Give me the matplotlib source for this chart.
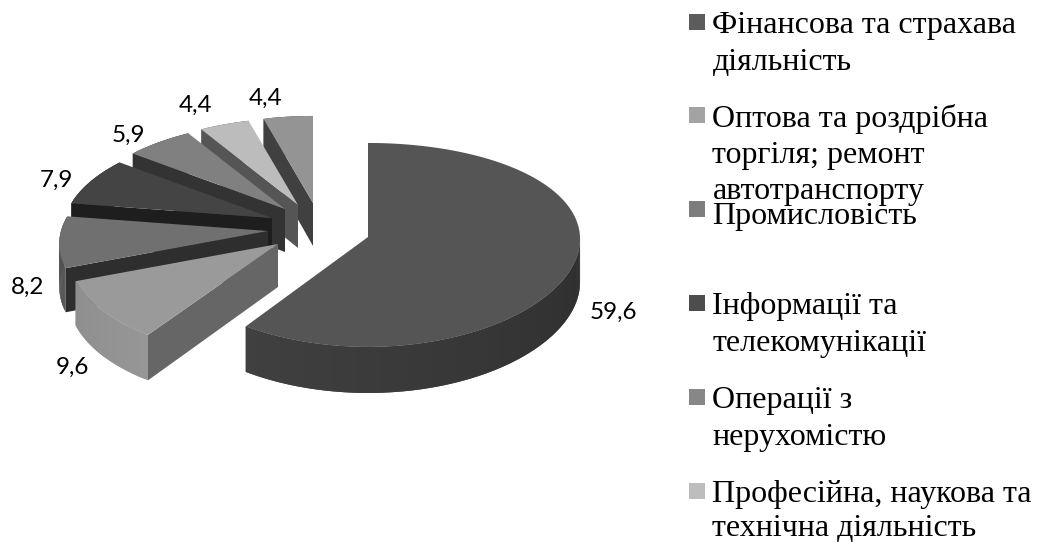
import numpy as np
import matplotlib
matplotlib.use("Agg")
import matplotlib.pyplot as plt
from matplotlib.colors import to_rgb

# Data
values = [59.6, 9.6, 8.2, 7.9, 5.9, 4.4, 4.4]
value_labels = ["59,6", "9,6", "8,2", "7,9", "5,9", "4,4", "4,4"]
legend_lines = [
    ["Фінансова та страхава", "діяльність"],
    ["Оптова та роздрібна", "торгіля; ремонт", "автотранспорту"],
    ["Промисловість"],
    ["Інформації та", "телекомунікації"],
    ["Операції з", "нерухомістю"],
    ["Професійна, наукова та", "технічна діяльність"],
]

# Styles and layout (pixels of the 1037x542 canvas)
apex = [(368, 237), (278, 244), (268, 231), (272, 218), (285, 209), (298, 205), (313, 203)]
top_col = ["#555555", "#9a9a9a", "#707070", "#444444", "#808080", "#bcbcbc", "#949494"]
cut_col = ["#222222", "#666666", "#2e2e2e", "#1e1e1e", "#333333", "#555555", "#404040"]
wall_l = ["#404040", "#8e8e8e", "#505050", "#303030", "#5a5a5a", "#808080", "#686868"]
wall_r = ["#212121", "#969696", "#585858", "#303030", "#5a5a5a", "#808080", "#686868"]
radii = [(212, 0.02, 102, 0.078)] + [(207, 0.13, 99.8, 0.128)] * 6
legend_col = ["#5c5c5c", "#a3a3a3", "#7d7d7d", "#4d4d4d", "#878787", "#bdbdbd"]
legend_y = [14, 107, 201, 295, 389, 483]
legend_base = [[33, 70], [127, 163, 199], [224], [314, 351], [408, 445], [502, 536]]
label_pos = [(613, 312), (72, 367), (28, 287), (56, 180), (128, 135), (196, 105), (266, 98)]

fig = plt.figure(figsize=(10.37, 5.42), dpi=100, facecolor="white")
ax = fig.add_axes([0, 0, 1, 1])
ax.set_xlim(0, 1037)
ax.set_ylim(542, 0)
ax.axis("off")


def project(i, theta):
    rx, kx, ry, ky = radii[i]
    c, s = np.cos(theta), np.sin(theta)
    x = apex[i][0] + rx * c * (1 - kx * s)
    y = apex[i][1] - ry * s * (1 - ky * s)
    return x, y, 43 - 3 * s


total = sum(values)
ends = np.cumsum(values) / total * 2 * np.pi
starts = np.concatenate([[0], ends[:-1]])

for i in range(len(values) - 1, -1, -1):
    t0 = np.pi / 2 - starts[i]
    t1 = np.pi / 2 - ends[i]
    th = np.linspace(t0, t1, max(int(abs(t1 - t0) * 60), 12))
    x, y, d = project(i, th)
    # outer rim as shaded overlapping strips, painted so seams stay hidden
    a, b = to_rgb(wall_r[i]), to_rgb(wall_l[i])
    for j in range(len(th) - 1):
        if i == 0 and np.sin(th[j]) > 0.0:
            continue
        f = j / (len(th) - 2)
        col = tuple(a[k] + (b[k] - a[k]) * f for k in range(3))
        e = min(j + 2, len(th) - 1)
        xs = np.r_[x[j:e + 1], x[j:e + 1][::-1]]
        ys = np.r_[y[j:e + 1], (y + d)[j:e + 1][::-1]]
        ax.fill(xs, ys, color=col, lw=0, zorder=i * -10 + 1 + j * 1e-4)
    # cut face along the lower edge
    if i > 0:
        ax.fill([apex[i][0], x[0], x[0], apex[i][0]],
                [apex[i][1], y[0], y[0] + d[0], apex[i][1] + 43],
                color=cut_col[i], lw=0, zorder=i * -10 + 2)
    # top surface
    ax.fill(np.r_[apex[i][0], x], np.r_[apex[i][1], y],
            color=top_col[i], lw=0, zorder=i * -10 + 3)

for txt, (px, py) in zip(value_labels, label_pos):
    ax.text(px, py, txt, family="Lato", fontsize=17.5, color="black",
            ha="center", va="center", zorder=20)

for col, sy, lines, bases in zip(legend_col, legend_y, legend_lines, legend_base):
    ax.fill([689, 705, 705, 689], [sy, sy, sy + 16, sy + 16], color=col, lw=0, zorder=20)
    for line, base in zip(lines, bases):
        ax.text(712.5, base, line, family="Liberation Serif", fontsize=23,
                color="black", ha="left", va="baseline", zorder=21)

fig.savefig("out.png", dpi=100, facecolor="white")
